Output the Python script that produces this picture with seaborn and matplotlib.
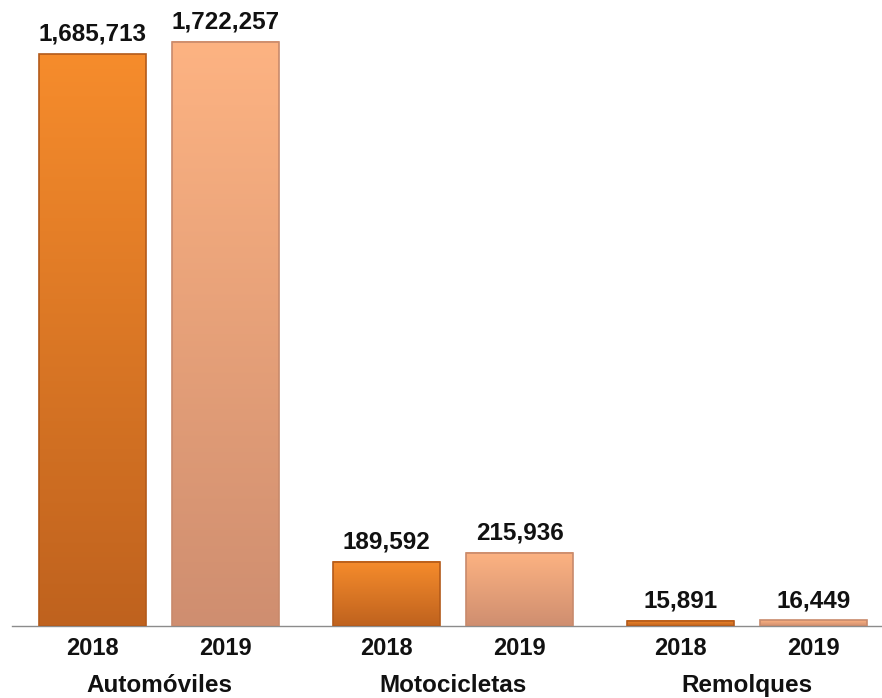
import numpy as np
import pandas as pd
import matplotlib
matplotlib.use("Agg")
import matplotlib.pyplot as plt
import seaborn as sns
from matplotlib.colors import LinearSegmentedColormap
from matplotlib.transforms import blended_transform_factory

categories = ["Automóviles", "Motocicletas", "Remolques"]
years = ["2018", "2019"]
values_2018 = [1685713, 189592, 15891]
values_2019 = [1722257, 215936, 16449]

df = pd.DataFrame({
    "categoria": categories * 2,
    "anio": [years[0]] * 3 + [years[1]] * 3,
    "valor": values_2018 + values_2019,
})

sns.set_style("white")
plt.rcParams["font.family"] = ["Liberation Sans", "DejaVu Sans"]

top_cols = {"2018": "#F68C2C", "2019": "#FDB382"}
bot_cols = {"2018": "#BF621E", "2019": "#CF8E70"}
edge_cols = {"2018": "#B35A1A", "2019": "#C88A6C"}

fig = plt.figure(figsize=(8.82, 6.98), dpi=100)
ax = fig.add_axes([12 / 882, 1 - 626 / 698, 870 / 882, 626 / 698])

sns.barplot(data=df, x="categoria", y="valor", hue="anio", hue_order=years,
            palette=[top_cols[y] for y in years], width=0.905, gap=0.2,
            legend=False, ax=ax, saturation=1)

xlim = (-0.5, 2.459)
ylim = (0, 1845000)

# gradient fill on each bar
grad = np.linspace(0, 1, 256).reshape(-1, 1)
for cont, yr in zip(ax.containers, years):
    cmap = LinearSegmentedColormap.from_list("g" + yr, [bot_cols[yr], top_cols[yr]])
    for p in cont.patches:
        x0, w, h = p.get_x(), p.get_width(), p.get_height()
        ax.imshow(grad, extent=[x0, x0 + w, 0, h], origin="lower",
                  aspect="auto", cmap=cmap, zorder=2)
        p.set_facecolor("none")
        p.set_edgecolor(edge_cols[yr])
        p.set_linewidth(1.2)
        p.set_zorder(3)
    ax.bar_label(cont, labels=[f"{v:,.0f}" for v in cont.datavalues],
                 padding=6, fontsize=17.5, fontweight="bold", color="#111111")

# year tick labels at bar centers
centers = []
labels = []
for cont, yr in zip(ax.containers, years):
    for p in cont.patches:
        centers.append(p.get_x() + p.get_width() / 2)
        labels.append(yr)
ax.set_xticks(centers)
ax.set_xticklabels(labels, fontsize=17, fontweight="bold", color="#111111")
ax.tick_params(axis="x", which="major", length=0, pad=8)

minor = [-0.5, 0, 0.5, 1, 1.5, 2]
ax.set_xticks(minor, minor=True)
ax.tick_params(axis="x", which="minor", direction="in", length=7,
               color="#8c8c8c", width=1)

ax.set_xlim(*xlim)
ax.set_ylim(*ylim)

trans = blended_transform_factory(ax.transData, ax.transAxes)
for i, c in enumerate(categories):
    ax.text(i, -0.1055, c, transform=trans, ha="center", va="baseline",
            fontsize=17.5, fontweight="bold", color="#111111")

ax.set_yticks([])
ax.set_xlabel("")
ax.set_ylabel("")
for s in ["top", "right", "left"]:
    ax.spines[s].set_visible(False)
ax.spines["bottom"].set_color("#8c8c8c")
ax.spines["bottom"].set_linewidth(1)

fig.savefig("out.png", dpi=100)
